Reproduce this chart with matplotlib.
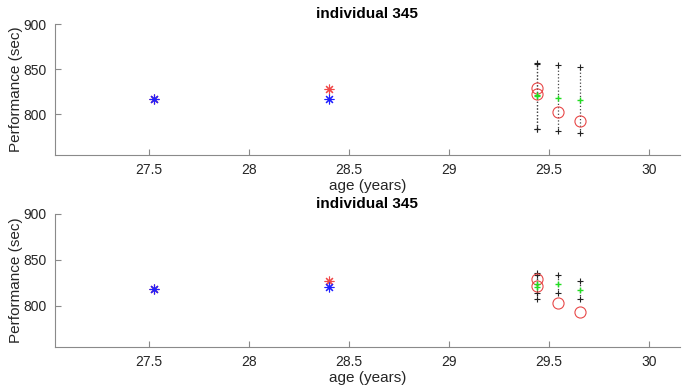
import matplotlib
matplotlib.use("Agg")
from matplotlib import pyplot as plt

plt.rcParams['font.family'] = ['Liberation Sans', 'DejaVu Sans']

# training points (age, performance)
train_age = [27.525, 28.40]
top_red = [816.5, 827.5]
top_blue = [816.5, 817.0]
bot_red = [818.0, 827.3]
bot_blue = [818.0, 820.0]

# test points
test_age = [29.44, 29.442, 29.545, 29.654]
test_actual = [829.3, 822.0, 802.5, 792.7]

# top model: prediction and interval
top_pred = [821.5, 820.5, 818.3, 815.4]
top_lo = [784.3, 783.5, 781.7, 779.0]
top_hi = [856.8, 856.0, 855.0, 852.4]

# bottom model
bot_pred = [824.0, 820.7, 823.7, 817.1]
bot_lo = [813.5, 807.6, 813.5, 807.3]
bot_hi = [835.3, 833.0, 833.5, 827.0]

gray = '#8a8a8a'
txt = '#262626'


def panel(ax, red, blue, pred, lo, hi):
    ax.plot(train_age, red, linestyle='none', marker=(8, 2, 0), ms=7, mew=0.8, color='#f04848')
    ax.plot(train_age, blue, linestyle='none', marker=(8, 2, 0), ms=7, mew=0.8, color='#2020ff')
    for a, l, h in zip(test_age, lo, hi):
        ax.plot([a, a], [l, h], linestyle=':', color='#444444', lw=0.9)
    ax.plot(test_age, lo, linestyle='none', marker='+', ms=5, mew=0.8, color='#222222')
    ax.plot(test_age, hi, linestyle='none', marker='+', ms=5, mew=0.8, color='#222222')
    ax.plot(test_age, test_actual, linestyle='none', marker='o', ms=8, mfc='none', mew=0.8, color='#e84848')
    ax.plot(test_age, pred, linestyle='none', marker='+', ms=5, mew=1.0, color='#22dd22')
    ax.set_xlim(27.027, 30.157)
    ax.set_ylim(755, 900)
    ax.set_xticks([27.5, 28, 28.5, 29, 29.5, 30])
    ax.set_xticklabels(['27.5', '28', '28.5', '29', '29.5', '30'])
    ax.set_yticks([800, 850, 900])
    for s in ['top', 'right']:
        ax.spines[s].set_visible(False)
    for s in ['left', 'bottom']:
        ax.spines[s].set_color(gray)
        ax.spines[s].set_linewidth(0.8)
    ax.tick_params(direction='in', length=4, width=0.8, color=gray, labelcolor=txt, labelsize=10, pad=6)
    ax.set_xlabel('age (years)', fontsize=11, color=txt, labelpad=1)
    ax.set_ylabel('Performance (sec)', fontsize=11, color=txt, labelpad=0)
    ax.set_title('individual 345', fontsize=11, fontweight='bold', color='black', pad=4)


fig = plt.figure(figsize=(6.99, 3.91), dpi=100)
ax1 = fig.add_axes([0.0783, 0.6036, 0.8947, 0.335])
ax2 = fig.add_axes([0.0783, 0.1125, 0.8947, 0.3402])
panel(ax1, top_red, top_blue, top_pred, top_lo, top_hi)
panel(ax2, bot_red, bot_blue, bot_pred, bot_lo, bot_hi)

fig.savefig('out.png', dpi=100)
